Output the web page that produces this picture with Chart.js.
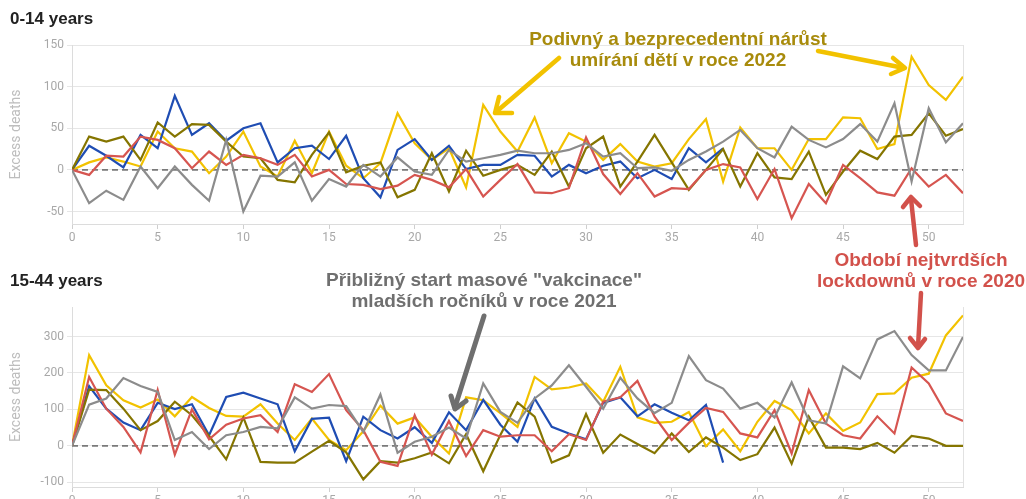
<!DOCTYPE html>
<html>
<head>
<meta charset="utf-8">
<script src="https://cdn.jsdelivr.net/npm/chart.js@4.4.1/dist/chart.umd.min.js"></script>
<style>
  html, body { margin: 0; padding: 0; background: #fff; overflow: hidden; width: 1026px; height: 499px; }
  #wrap { position: relative; width: 1026px; height: 499px; overflow: hidden; }
  .cv { position: absolute; left: 0; }
  .ttl { position: absolute; left: 10px; font: bold 17px "Liberation Sans", Arial, sans-serif; color: #222; }
  .ann { position: absolute; font: bold 19px "Liberation Sans", Arial, sans-serif; line-height: 21px; text-align: center; white-space: nowrap; transform: translateX(-50%); }
  svg { position: absolute; left: 0; top: 0; pointer-events: none; }
</style>
</head>
<body>
<div id="wrap">
  <canvas id="c1" class="cv" style="top:0px"></canvas>
  <canvas id="c2" class="cv" style="top:260px"></canvas>
  <div class="ttl" style="top:9px">0-14 years</div>
  <div class="ttl" style="top:271px">15-44 years</div>
  <div class="ann" style="left:678px; top:28px; color:#a88b0c;">Podivný a bezprecedentní nárůst<br>umírání dětí v roce 2022</div>
  <div class="ann" style="left:484px; top:269px; color:#6f6f6f;">Přibližný start masové "vakcinace"<br>mladších ročníků v roce 2021</div>
  <div class="ann" style="left:921px; top:249px; color:#d2514b;">Období nejtvrdších<br>lockdownů v roce 2020</div>
  <svg width="1026" height="499" viewBox="0 0 1026 499">
    <g fill="none" stroke-linecap="round" stroke-linejoin="round">
      <g stroke="#f2c200" stroke-width="4.5">
        <line x1="559" y1="58" x2="496" y2="112"/>
        <polyline points="499,97 495,113 512,113"/>
        <line x1="818" y1="51" x2="904" y2="68"/>
        <polyline points="893,58 905,68 891,74"/>
      </g>
      <g stroke="#6f6f6f" stroke-width="5">
        <line x1="484" y1="316" x2="455" y2="407"/>
        <polyline points="451,396 455,409 466,401"/>
      </g>
      <g stroke="#d2514b" stroke-width="4.5">
        <line x1="916" y1="245" x2="911" y2="199"/>
        <polyline points="903,207 911,197 920,206"/>
        <line x1="921" y1="293" x2="918" y2="347"/>
        <polyline points="910,338 918,348 925,339"/>
      </g>
    </g>
  </svg>
</div>
<script>
// ---------- DATA ----------
const weeks = [0,1,2,3,4,5,6,7,8,9,10,11,12,13,14,15,16,17,18,19,20,21,22,23,24,25,26,27,28,29,30,31,32,33,34,35,36,37,38,39,40,41,42,43,44,45,46,47,48,49,50,51,52];
const xTicks = [0,5,10,15,20,25,30,35,40,45,50];
const yTicksKids = [-50,0,50,100,150];
const yTicksAdults = [-100,0,100,200,300];

// 0-14 years
const kidsYellow = [0,9,15,10,4,46,26,22,-4,16,46,4,-8,35,-4,46,5,-10,8,68,32,12,26,-21,78,46,22,63,8,44,34,12,31,10,4,8,37,61,-14,51,26,26,0,37,37,63,62,25,31,136,102,84,112];
const kidsGray   = [0,-40,-25,-36,4,-22,4,-18,-37,36,-50,-7,-8,9,-37,-11,-20,6,-8,15,-2,-6,24,10,14,18,23,20,20,24,32,16,20,2,3,-1,12,22,34,48,26,15,52,36,27,37,55,34,80,-14,74,33,56];
const kidsRed    = [0,-6,17,16,40,36,26,2,22,6,18,14,6,18,-8,0,-17,-18,-23,-19,-6,-12,-21,1,-32,-12,7,-27,-28,-22,39,-5,-29,-4,-32,-22,-23,0,7,3,-35,1,-58,-17,-40,6,-10,-27,-31,2,-20,-6,-28];
const kidsOlive  = [0,40,34,40,12,57,40,55,54,34,16,14,-12,-15,18,45,-3,5,9,-33,-24,20,-26,23,-7,0,6,-6,22,-20,26,40,-20,10,42,9,-24,0,25,-20,20,-9,-11,22,-30,-2,23,13,40,42,68,41,49];
const kidsBlue   = [0,29,17,3,42,26,89,42,56,35,50,56,9,26,29,13,41,-10,-33,24,37,12,29,1,6,6,18,17,-8,6,-4,5,10,-10,0,-11,26,9,26];

// 15-44 years
const adultYellow = [0,249,166,125,105,127,81,134,104,82,80,114,61,16,75,16,-12,40,110,61,78,25,-21,133,125,90,52,189,155,160,171,121,217,78,63,66,93,-1,45,-15,66,123,98,34,89,41,64,142,144,187,198,303,358];
const adultGray   = [0,113,130,186,164,148,16,38,-9,29,38,52,48,133,102,112,109,38,141,-19,11,25,50,20,171,93,63,130,166,221,162,102,187,130,90,118,246,180,157,102,118,78,174,70,61,218,185,292,315,249,207,207,299];
const adultRed    = [0,189,102,52,-18,153,-24,100,18,58,75,84,38,169,148,197,98,43,-44,-55,84,-24,68,-28,43,25,29,29,-15,32,16,121,133,178,80,16,63,104,93,34,23,98,-21,153,61,29,20,81,34,215,171,89,68];
const adultOlive  = [0,154,153,102,43,68,121,84,27,-37,78,-44,-46,-46,-16,14,-18,-92,-42,-46,-34,-18,-48,32,-70,30,119,80,-46,-26,87,-19,31,5,-20,34,-17,23,-5,-39,-23,50,-49,80,-5,-5,-9,8,-19,27,20,0,0];
const adultBlue   = [0,164,102,64,43,118,101,114,29,134,146,130,114,-15,74,77,-42,80,43,20,51,8,92,43,126,58,11,130,52,34,18,118,133,81,114,91,70,112,-46];

const COLORS = { yellow: '#f2c200', gray: '#8c8c8c', red: '#d65550', olive: '#857500', blue: '#1f4db3' };

// ---------- HELPERS ----------
function pts(arr) { return arr.map((v, i) => ({ x: weeks[i], y: v })); }
function ds(arr, color) {
  return { data: pts(arr), borderColor: color, borderWidth: 2.2, pointRadius: 0, fill: false, tension: 0 };
}

const zeroLine = {
  id: 'zeroLine',
  beforeDatasetsDraw(chart) {
    const { ctx, chartArea, scales } = chart;
    const y = scales.y.getPixelForValue(0);
    ctx.save();
    ctx.strokeStyle = '#7a7a7a';
    ctx.lineWidth = 1.6;
    ctx.setLineDash([6, 4]);
    ctx.beginPath();
    ctx.moveTo(chartArea.left, y);
    ctx.lineTo(chartArea.right, y);
    ctx.stroke();
    ctx.restore();
  }
};
const rightBorder = {
  id: 'rightBorder',
  beforeDatasetsDraw(chart) {
    const { ctx, chartArea } = chart;
    ctx.save();
    ctx.strokeStyle = '#e2e2e2';
    ctx.lineWidth = 1;
    ctx.beginPath();
    ctx.moveTo(chartArea.right + 0.5, chartArea.top);
    ctx.lineTo(chartArea.right + 0.5, chartArea.bottom);
    ctx.stroke();
    ctx.restore();
  }
};

const tickFont = { family: 'Roboto, "Liberation Sans", sans-serif', size: 12 };

function makeChart(id, canvasH, padTop, bottomH, yMin, yMax, yTicks, series) {
  const cv = document.getElementById(id);
  cv.width = 1026; cv.height = canvasH;
  cv.style.width = '1026px'; cv.style.height = canvasH + 'px';
  return new Chart(cv, {
    type: 'line',
    data: { datasets: series },
    options: {
      responsive: false,
      animation: false,
      devicePixelRatio: 1,
      layout: { padding: { top: padTop, right: 63, left: 0, bottom: 0 } },
      plugins: { legend: { display: false }, tooltip: { enabled: false } },
      scales: {
        x: {
          type: 'linear', min: 0, max: 52,
          afterBuildTicks: (s) => { s.ticks = xTicks.map(v => ({ value: v })); },
          afterFit: (s) => { s.height = bottomH; },
          grid: { drawOnChartArea: false, drawTicks: true, tickLength: 5, color: '#cfcfcf' },
          border: { display: true, color: '#dcdcdc' },
          ticks: { color: '#a8a8a8', font: tickFont, padding: 2, maxRotation: 0 }
        },
        y: {
          min: yMin, max: yMax,
          afterBuildTicks: (s) => { s.ticks = yTicks.map(v => ({ value: v })); },
          afterFit: (s) => { s.width = 72; },
          grid: { color: '#e6e6e6', drawTicks: true, tickLength: 5 },
          border: { display: true, color: '#dcdcdc' },
          ticks: { color: '#a8a8a8', font: tickFont, padding: 3 },
          title: { display: true, text: 'Excess deaths', color: '#bdbdbd', font: { family: 'Roboto, "Liberation Sans", sans-serif', size: 14 }, padding: { top: 8, bottom: 0 } }
        }
      }
    },
    plugins: [zeroLine, rightBorder]
  });
}

makeChart('c1', 250, 45, 26, -65, 150, yTicksKids, [
  ds(kidsGray, COLORS.gray), ds(kidsRed, COLORS.red), ds(kidsOlive, COLORS.olive), ds(kidsBlue, COLORS.blue), ds(kidsYellow, COLORS.yellow)
]);
makeChart('c2', 260, 47, 33, -113, 381, yTicksAdults, [
  ds(adultGray, COLORS.gray), ds(adultRed, COLORS.red), ds(adultOlive, COLORS.olive), ds(adultBlue, COLORS.blue), ds(adultYellow, COLORS.yellow)
]);
</script>
</body>
</html>
